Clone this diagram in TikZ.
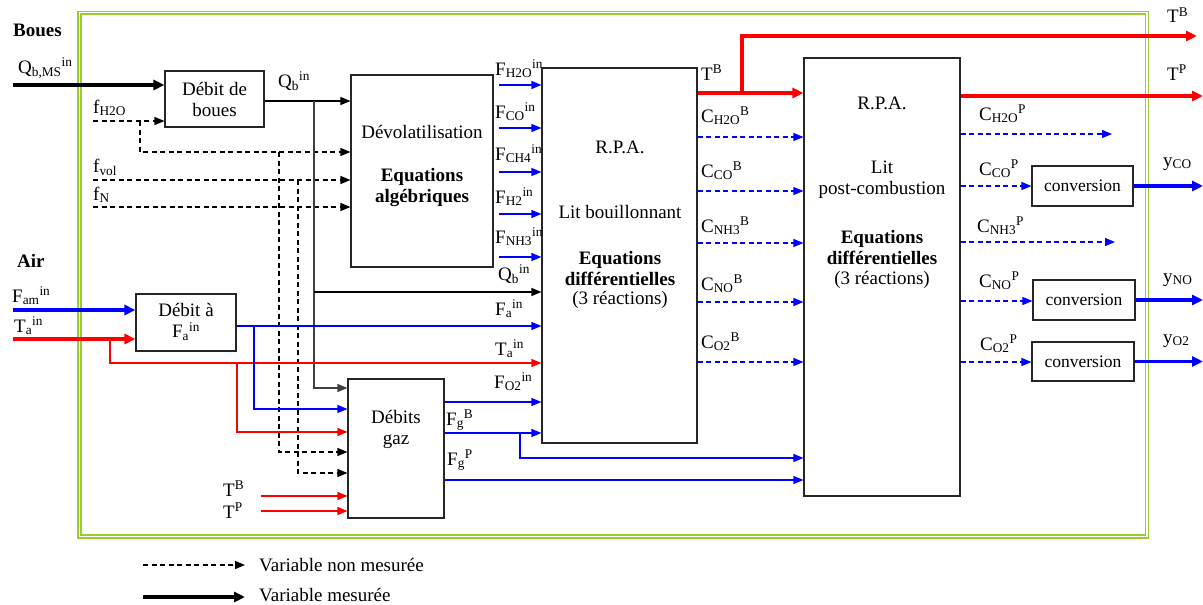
\documentclass[tikz,border=0pt]{standalone}
\usepackage{fontspec}
\setmainfont{Liberation Serif}
\usetikzlibrary{arrows.meta}
\definecolor{framegreen}{RGB}{154,205,50}
\newcommand\SbSp[3]{#1\textsubscript{#2}\textsuperscript{#3}}
\newcommand\Sp[2]{#1\textsuperscript{#2}}
\newcommand\Sb[2]{#1\textsubscript{#2}}
\begin{document}
\begin{tikzpicture}[x=1pt,y=-1pt,
  font=\fontsize{19}{21}\selectfont,
  box/.style={draw=black!85,line width=1.1pt,inner sep=0pt},
  arr/.style={line width=1.2pt,-{Triangle[length=10pt,width=8pt]}},
  fat/.style={line width=3.6pt,-{Triangle[length=11pt,width=10pt]}},
  dsh/.style={dash pattern=on 5pt off 3.5pt},
  lbl/.style={anchor=base west,inner sep=0pt},
  txt/.style={inner sep=0pt,align=center},
  bf/.style={font=\fontsize{19}{21}\selectfont\bfseries},
  convbox/.style={box,font=\fontsize{17.5}{21}\selectfont},
  framestyle/.style={draw=framegreen,line width=1.5pt,double=white,double distance=1.3pt}]
\useasboundingbox (0,0) rectangle (1203,605);
\draw[framestyle] (79.5,12.7) rectangle (1147,536.5);

% ---------- boxes ----------
\node[box,minimum width=99pt,minimum height=56pt] (boues) at (214.5,99) {};
\node[txt] (bouesT) at (214.5,99) {Débit de\\boues};
\node[box,minimum width=142pt,minimum height=192pt] (devol) at (422,171) {};
\node[txt] (devolT1) at (422,132) {Dévolatilisation};
\node[txt,bf] (devolT2) at (422,188) {Equations\\algébriques};
\node[box,minimum width=155pt,minimum height=375pt] (rpaB) at (619.5,255.5) {};
\node[txt] (rpaBT1) at (620,147) {R.P.A.};
\node[txt] (rpaBT2) at (620,212) {Lit bouillonnant};
\node[txt,bf] (rpaBT3) at (620,268) {Equations\\différentielles};
\node[txt] (rpaBT4) at (620,300) {(3 réactions)};
\node[box,minimum width=100pt,minimum height=57pt] (fa) at (186,322.5) {};
\node[txt] (faT) at (186,322) {Débit à\\\SbSp{F}{a}{in}};
\node[box,minimum width=96pt,minimum height=139pt] (gaz) at (396,448.5) {};
\node[txt] (gazT) at (396,429.5) {Débits\\gaz};
\node[box,minimum width=156pt,minimum height=438pt] (rpaP) at (882,277) {};
\node[txt] (rpaPT1) at (882,103) {R.P.A.};
\node[txt] (rpaPT2) at (882,180) {Lit\\post-combustion};
\node[txt,bf] (rpaPT3) at (882,247) {Equations\\différentielles};
\node[txt] (rpaPT4) at (882,280) {(3 réactions)};
\node[convbox,minimum width=101pt,minimum height=40pt] (conv1) at (1082.5,186) {conversion};
\node[convbox,minimum width=102pt,minimum height=40pt] (conv2) at (1084,300) {conversion};
\node[convbox,minimum width=102pt,minimum height=39pt] (conv3) at (1083,361.5) {conversion};

% ---------- coordinates ----------
\coordinate (qbmsS) at (13,85);
\coordinate (fh2oS) at (93,121);
\coordinate (fh2oJ) at (140,121);
\coordinate (fh2oY) at (0,152);
\coordinate (fvolS) at (93,180);
\coordinate (fnS) at (93,207);
\coordinate (dv1) at (279,152);
\coordinate (dv1Y) at (0,452);
\coordinate (dv2) at (298,180);
\coordinate (dv2Y) at (0,473);
\coordinate (qbY) at (0,101);
\coordinate (qbJ) at (314,101);
\coordinate (qbJ2) at (314,292);
\coordinate (qbGazY) at (0,388);
\coordinate (famS) at (13,310);
\coordinate (taS) at (13,339);
\coordinate (taJ) at (110,339);
\coordinate (taY) at (0,363);
\coordinate (taJ2) at (237,363);
\coordinate (taGazY) at (0,432);
\coordinate (faY) at (0,326);
\coordinate (faJ) at (254,326);
\coordinate (faGazY) at (0,409);
\coordinate (tbS) at (261,496);
\coordinate (tpS) at (261,511);
\coordinate (fh2oF) at (499,85);
\coordinate (fcoF) at (499,128);
\coordinate (fch4F) at (499,172);
\coordinate (fh2F) at (499,214);
\coordinate (fnh3F) at (499,257);
\coordinate (fo2Y) at (0,402);
\coordinate (fgbY) at (0,433);
\coordinate (fgbJ) at (520,433);
\coordinate (fgbY2) at (0,458);
\coordinate (fgpY) at (0,480);
\coordinate (tbY) at (0,93);
\coordinate (tbJ) at (742,93);
\coordinate (tbE) at (1197,36);
\coordinate (tpY) at (0,96);
\coordinate (xR) at (1203,0);
\coordinate (ch2oE) at (1112,134);
\coordinate (cnh3E) at (1115,242);
\coordinate (cNoY) at (0,301);
\coordinate (cO2Y) at (0,362);
\coordinate (legA) at (143,565);
\coordinate (legAE) at (245,565);
\coordinate (legB) at (143,597);
\coordinate (legBE) at (245,597);

% ---------- sludge inputs ----------
\draw[fat] (qbmsS) -- (boues.west |- qbmsS);
\draw[arr,dsh] (fh2oS) -- (boues.west |- fh2oS);
\draw[arr,dsh] (fh2oJ) |- (devol.west |- fh2oY);
\draw[arr,dsh] (fvolS) -- (devol.west |- fvolS);
\draw[arr,dsh] (fnS) -- (devol.west |- fnS);
\draw[arr,dsh] (dv1) |- (gaz.west |- dv1Y);
\draw[arr,dsh] (dv2) |- (gaz.west |- dv2Y);
\draw[arr] (boues.east |- qbY) -- (devol.west |- qbY);
\draw[arr,black!75] (qbJ) |- (gaz.west |- qbGazY);
\draw[arr] (qbJ2) -- (rpaB.west |- qbJ2);

% ---------- air inputs ----------
\draw[fat,blue] (famS) -- (fa.west |- famS);
\draw[fat,red] (taS) -- (fa.west |- taS);
\draw[arr,red] (taJ) |- (rpaB.west |- taY);
\draw[arr,red] (taJ2) |- (gaz.west |- taGazY);
\draw[arr,blue] (fa.east |- faY) -- (rpaB.west |- faY);
\draw[arr,blue] (faJ) |- (gaz.west |- faGazY);
\draw[arr,red] (tbS) -- (gaz.west |- tbS);
\draw[arr,red] (tpS) -- (gaz.west |- tpS);

% ---------- devolatilisation outputs ----------
\draw[arr,blue] (fh2oF) -- (rpaB.west |- fh2oF);
\draw[arr,blue] (fcoF) -- (rpaB.west |- fcoF);
\draw[arr,blue] (fch4F) -- (rpaB.west |- fch4F);
\draw[arr,blue] (fh2F) -- (rpaB.west |- fh2F);
\draw[arr,blue] (fnh3F) -- (rpaB.west |- fnh3F);

% ---------- gas outputs ----------
\draw[arr,blue] (gaz.east |- fo2Y) -- (rpaB.west |- fo2Y);
\draw[arr,blue] (gaz.east |- fgbY) -- (rpaB.west |- fgbY);
\draw[arr,blue] (fgbJ) |- (rpaP.west |- fgbY2);
\draw[arr,blue] (gaz.east |- fgpY) -- (rpaP.west |- fgpY);

% ---------- bubbling bed outputs ----------
\draw[fat,red] (rpaB.east |- tbY) -- (rpaP.west |- tbY);
\draw[fat,red] (tbJ) |- (tbE);
\foreach \yy/\nm in {137/a,191/b,243/c,302/d,362/e}{
  \coordinate (cb\nm) at (0,\yy);
  \draw[arr,dsh,blue] (rpaB.east |- cb\nm) -- (rpaP.west |- cb\nm);
}

% ---------- post-combustion outputs ----------
\draw[fat,red] (rpaP.east |- tpY) -- (xR |- tpY);
\draw[arr,dsh,blue] (rpaP.east |- ch2oE) -- (ch2oE);
\draw[arr,dsh,blue] (rpaP.east |- conv1.west) -- (conv1.west);
\draw[arr,dsh,blue] (rpaP.east |- cnh3E) -- (cnh3E);
\draw[arr,dsh,blue] (rpaP.east |- cNoY) -- (conv2.west |- cNoY);
\draw[arr,dsh,blue] (rpaP.east |- cO2Y) -- (conv3.west |- cO2Y);
\draw[fat,blue] (conv1.east) -- (xR |- conv1.east);
\draw[fat,blue] (conv2.east) -- (xR |- conv2.east);
\draw[fat,blue] (conv3.east) -- (xR |- conv3.east);

% ---------- legend ----------
\draw[arr,dsh] (legA) -- (legAE);
\draw[fat] (legB) -- (legBE);
\node[lbl] (legAT) at (259,571) {Variable non mesurée};
\node[lbl] (legBT) at (259,601) {Variable mesurée};

% ---------- labels ----------
\node[lbl,bf] (lBoues) at (13,36) {Boues};
\node[lbl] (lQbms) at (18,73) {\SbSp{Q}{b,MS}{in}};
\node[lbl] (lfh2o) at (93,113) {\Sb{f}{H2O}};
\node[lbl] (lfvol) at (93,172) {\Sb{f}{vol}};
\node[lbl] (lfn) at (93,200) {\Sb{f}{N}};
\node[lbl] (lQb) at (278,87) {\SbSp{Q}{b}{in}};
\node[lbl,bf] (lAir) at (17,267) {Air};
\node[lbl] (lFam) at (12,302) {\SbSp{F}{am}{in}};
\node[lbl] (lTa) at (14,332) {\SbSp{T}{a}{in}};
\node[lbl] (lTBg) at (223,496) {\Sp{T}{B}};
\node[lbl] (lTPg) at (223,518) {\Sp{T}{P}};
\node[lbl] (lFh2o) at (495,75) {\SbSp{F}{H2O}{in}};
\node[lbl] (lFco) at (495,118) {\SbSp{F}{CO}{in}};
\node[lbl] (lFch4) at (495,160) {\SbSp{F}{CH4}{in}};
\node[lbl] (lFh2) at (495,203) {\SbSp{F}{H2}{in}};
\node[lbl] (lFnh3) at (495,243) {\SbSp{F}{NH3}{in}};
\node[lbl] (lQb2) at (498,280) {\SbSp{Q}{b}{in}};
\node[lbl] (lFa) at (495,315) {\SbSp{F}{a}{in}};
\node[lbl] (lTa2) at (495,355) {\SbSp{T}{a}{in}};
\node[lbl] (lFo2) at (494,388) {\SbSp{F}{O2}{in}};
\node[lbl] (lFgB) at (446,425) {\SbSp{F}{g}{B}};
\node[lbl] (lFgP) at (447,465) {\SbSp{F}{g}{P}};
\node[lbl] (lTB) at (701,80) {\Sp{T}{B}};
\node[lbl] (lCh2oB) at (701,122) {\SbSp{C}{H2O}{B}};
\node[lbl] (lCcoB) at (701,177) {\SbSp{C}{CO}{B}};
\node[lbl] (lCnh3B) at (701,232) {\SbSp{C}{NH3}{B}};
\node[lbl] (lCnoB) at (701,290) {\SbSp{C}{NO}{B}};
\node[lbl] (lCo2B) at (701,348) {\SbSp{C}{O2}{B}};
\node[lbl] (lTBo) at (1167,23) {\Sp{T}{B}};
\node[lbl] (lTPo) at (1167,80) {\Sp{T}{P}};
\node[lbl] (lCh2oP) at (979,120) {\SbSp{C}{H2O}{P}};
\node[lbl] (lCcoP) at (979,175) {\SbSp{C}{CO}{P}};
\node[lbl] (lCnh3P) at (977,232) {\SbSp{C}{NH3}{P}};
\node[lbl] (lCnoP) at (979,287) {\SbSp{C}{NO}{P}};
\node[lbl] (lCo2P) at (980,350) {\SbSp{C}{O2}{P}};
\node[lbl] (lyco) at (1163,166) {\Sb{y}{CO}};
\node[lbl] (lyno) at (1163,282) {\Sb{y}{NO}};
\node[lbl] (lyo2) at (1163,343) {\Sb{y}{O2}};
\end{tikzpicture}
\end{document}
